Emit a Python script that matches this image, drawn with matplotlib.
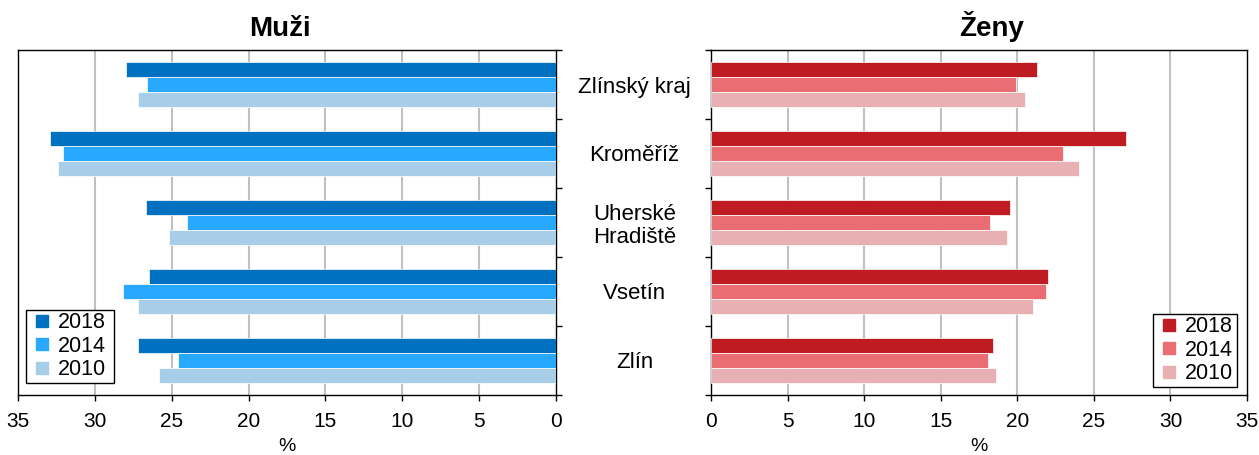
import numpy as np
import matplotlib
matplotlib.use("Agg")
import matplotlib.pyplot as plt
from matplotlib.lines import Line2D

plt.rcParams["font.family"] = ["Liberation Sans", "DejaVu Sans"]

# Data (share in %)
regions = ["Zlínský kraj", "Kroměříž", "Uherské\nHradiště", "Vsetín", "Zlín"]
years = ["2018", "2014", "2010"]

men_2018 = [28.0, 32.9, 26.7, 26.5, 27.2]
men_2014 = [26.6, 32.1, 24.0, 28.2, 24.6]
men_2010 = [27.2, 32.4, 25.2, 27.2, 25.8]

women_2018 = [21.3, 27.1, 19.5, 22.0, 18.4]
women_2014 = [19.9, 23.0, 18.2, 21.9, 18.1]
women_2010 = [20.5, 24.0, 19.3, 21.0, 18.6]

blues = ["#0070c0", "#29a8ff", "#a7cde8"]
reds = ["#be1b23", "#eb6d74", "#e8b0b3"]

fig = plt.figure(figsize=(12.59, 4.55), dpi=100)
ax_m = fig.add_axes([0.0143, 0.1319, 0.4273, 0.7582])
ax_w = fig.add_axes([0.5647, 0.1319, 0.4258, 0.7582])

y = np.arange(len(regions))
h = 0.22
offsets = [-h, 0, h]


def draw(ax, series, colors, title, title_x):
    for vals, off, col, yr in zip(series, offsets, colors, years):
        ax.barh(y + off, vals, height=h, color=col, edgecolor="white",
                linewidth=0.5, label=yr, zorder=3)
    ax.set_ylim(len(regions) - 0.5, -0.5)
    ax.set_xticks(np.arange(0, 36, 5))
    ax.tick_params(axis="x", direction="out", length=4.5, width=1,
                   labelsize=15, pad=8)
    ax.set_yticks(np.arange(-0.5, len(regions) + 0.5, 1))
    ax.set_yticklabels([])
    ax.tick_params(axis="y", direction="out", length=4.5, width=1)
    for x in range(5, 35, 5):
        ax.axvline(x, color="#c0c0c0", lw=1.5, zorder=1)
    for s in ax.spines.values():
        s.set_linewidth(1.0)
    ax.set_title(title, fontsize=20, fontweight="bold", pad=10, x=title_x)
    ax.set_xlabel("%", fontsize=14, labelpad=5)


draw(ax_m, [men_2018, men_2014, men_2010], blues, "Muži", 0.487)
ax_m.set_xlim(35, 0)
ax_m.yaxis.tick_right()

draw(ax_w, [women_2018, women_2014, women_2010], reds, "Ženy", 0.524)
ax_w.set_xlim(0, 35)

# category labels between the two panels
ax_w.set_yticks(y, minor=True)
ax_w.set_yticklabels(regions, minor=True, fontsize=16, ha="center",
                     linespacing=1.1)
ax_w.tick_params(axis="y", which="minor", length=0, pad=55)


def square_handles(colors):
    return [Line2D([], [], ls="none", marker="s", markersize=8,
                   markerfacecolor=c, markeredgecolor=c) for c in colors]


leg_kw = dict(fontsize=15.5, frameon=True, fancybox=False, edgecolor="black",
              handlelength=1.2, handletextpad=0.15, mode="expand",
              labelspacing=0.12, borderpad=0.12, borderaxespad=0, framealpha=1)
lm = ax_m.legend(square_handles(blues), years, loc="lower left",
                 bbox_to_anchor=(0.015, 0.035, 0.1636, 0), **leg_kw)
lw = ax_w.legend(square_handles(reds), years, loc="lower left",
                 bbox_to_anchor=(0.8246, 0.023, 0.1567, 0), **leg_kw)
for lg in (lm, lw):
    lg.get_frame().set_linewidth(1.0)

fig.savefig("out.png", dpi=100)
